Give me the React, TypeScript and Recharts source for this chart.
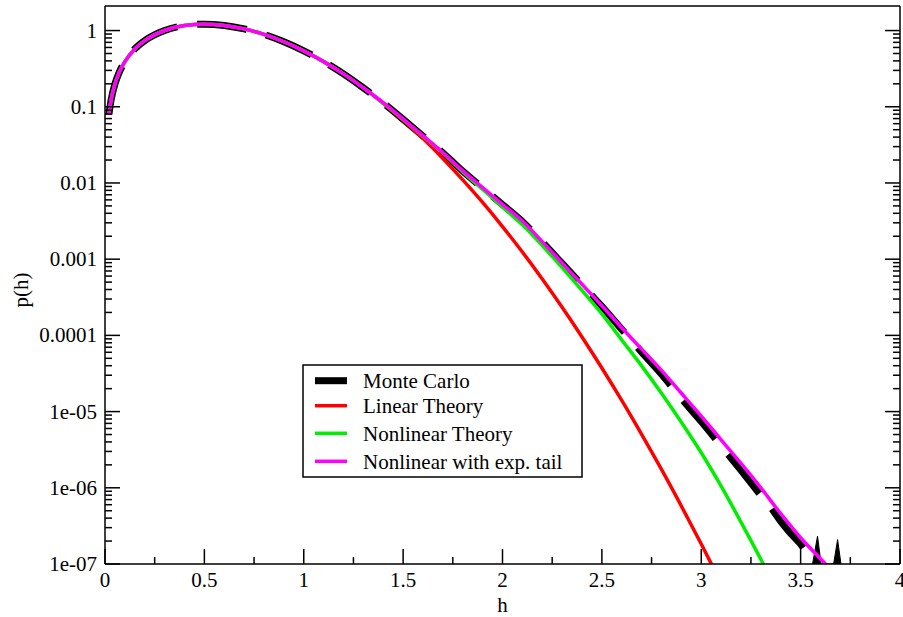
import { ComposedChart, Line, Area, XAxis, YAxis, Label } from "recharts";

// h values shared by the three theory curves
const hGrid = [
  0.02, 0.03, 0.05, 0.07, 0.1, 0.15, 0.2, 0.3, 0.4, 0.5, 0.6, 0.7, 0.8, 0.9,
  1.0, 1.1, 1.2, 1.3, 1.4, 1.5, 1.6, 1.7, 1.8, 1.9, 2.0, 2.1, 2.2, 2.3, 2.4,
  2.5, 2.6, 2.7, 2.8, 2.9, 3.0, 3.1, 3.2, 3.3, 3.4, 3.5, 3.6, 3.7,
];

const linearTheory = [
  0.0799, 0.1198, 0.199, 0.277, 0.392, 0.574, 0.738, 1.002, 1.162, 1.213,
  1.168, 1.051, 0.89, 0.713, 0.541, 0.391, 0.27, 0.177, 0.111, 0.0666, 0.0382,
  0.021, 0.011, 0.00556, 0.00268, 0.00124, 5.5e-4, 2.34e-4, 9.54e-5, 3.73e-5,
  1.4e-5, 5.03e-6, 1.74e-6, 5.75e-7, 1.83e-7, 5.6e-8,
];

const nonlinearTheory = [
  0.0799, 0.1198, 0.199, 0.277, 0.392, 0.574, 0.738, 1.002, 1.162, 1.213,
  1.168, 1.051, 0.89, 0.713, 0.541, 0.391, 0.27, 0.177, 0.112, 0.0684, 0.0412,
  0.0248, 0.01396, 0.00822, 0.00484, 0.00282, 0.00151, 7.76e-4, 3.89e-4,
  1.91e-4, 8.71e-5, 3.98e-5, 1.74e-5, 7.24e-6, 2.88e-6, 1.05e-6, 3.55e-7,
  1.15e-7, 3.55e-8,
];

const expTail = [
  0.0799, 0.1198, 0.199, 0.277, 0.392, 0.574, 0.738, 1.002, 1.162, 1.213,
  1.168, 1.051, 0.89, 0.713, 0.541, 0.391, 0.27, 0.177, 0.1135, 0.0692, 0.0417,
  0.0251, 0.0145, 0.00871, 0.00525, 0.00316, 0.0017, 8.91e-4, 4.68e-4,
  2.45e-4, 1.26e-4, 6.61e-5, 3.47e-5, 1.74e-5, 8.71e-6, 4.27e-6, 2.09e-6,
  1.0e-6, 4.57e-7, 2.21e-7, 1.17e-7, 6.3e-8,
];

// Monte Carlo histogram, finer in the noisy tail
const mcH = [
  0.02, 0.03, 0.05, 0.07, 0.1, 0.15, 0.2, 0.3, 0.4, 0.5, 0.6, 0.7, 0.8, 0.9,
  1.0, 1.1, 1.2, 1.3, 1.4, 1.5, 1.6, 1.7, 1.8, 1.9, 2.0, 2.1, 2.2, 2.3, 2.4,
  2.5, 2.6, 2.7, 2.8, 2.9, 3.0, 3.1, 3.2, 3.3, 3.35, 3.4, 3.45, 3.5, 3.52,
  3.54, 3.56, 3.575,
];

const monteCarlo = [
  0.0799, 0.1198, 0.199, 0.277, 0.392, 0.574, 0.738, 1.002, 1.162, 1.213,
  1.168, 1.051, 0.89, 0.713, 0.541, 0.391, 0.27, 0.177, 0.1125, 0.0685,
  0.0412, 0.0248, 0.0143, 0.0086, 0.0052, 0.00312, 0.00168, 8.8e-4, 4.6e-4,
  2.4e-4, 1.2e-4, 6.03e-5, 3.09e-5, 1.48e-5, 7.41e-6, 3.55e-6, 1.7e-6,
  7.94e-7, 5.5e-7, 3.63e-7, 2.51e-7, 1.82e-7, 1.55e-7, 1.26e-7, 1.07e-7,
  1e-8,
];

// isolated histogram counts past the end of the Monte Carlo curve
const mcSpikeH = [3.56, 3.585, 3.603, 3.666, 3.686, 3.703];
const mcSpikeP = [1e-7, 2.32e-7, 1e-7, 1e-7, 2.09e-7, 1e-7];

const xTicks = [0, 0.25, 0.5, 0.75, 1, 1.25, 1.5, 1.75, 2, 2.25, 2.5, 2.75, 3, 3.25, 3.5, 3.75, 4];
const xMajorTicks = [0, 0.5, 1, 1.5, 2, 2.5, 3, 3.5, 4];
const xTickLabels = ["0", "0.5", "1", "1.5", "2", "2.5", "3", "3.5", "4"];

const yMajorTicks = [1e-7, 1e-6, 1e-5, 1e-4, 1e-3, 1e-2, 0.1, 1];
const yTickLabels = ["1e-07", "1e-06", "1e-05", "0.0001", "0.001", "0.01", "0.1", "1"];
const yTicks = yMajorTicks.flatMap((d) =>
  d < 1 ? [d, 2 * d, 3 * d, 4 * d, 5 * d, 6 * d, 7 * d, 8 * d, 9 * d] : [d]
);

const series = [
  { name: "Monte Carlo", color: "#000000", width: 7 },
  { name: "Linear Theory", color: "#ff0000", width: 3.5 },
  { name: "Nonlinear Theory", color: "#00ee00", width: 3.5 },
  { name: "Nonlinear with exp. tail", color: "#ff00ff", width: 3.5 },
];

const toPoints = (hs: number[], ps: number[]) => ps.map((p, i) => ({ h: hs[i], p }));

const FONT = "'Liberation Serif', 'Times New Roman', serif";
const MAJOR = 15;
const MINOR = 7;

const yMajorIndex = (v: number) =>
  yMajorTicks.findIndex((t) => Math.abs(Math.log10(v) - Math.log10(t)) < 1e-6);
const xMajorIndex = (v: number) => xMajorTicks.findIndex((t) => Math.abs(v - t) < 1e-6);

const LeftTick = ({ x, y, payload }: any) => {
  const i = yMajorIndex(payload.value);
  return (
    <g>
      <line x1={x} y1={y} x2={x + (i >= 0 ? MAJOR : MINOR)} y2={y} stroke="#000" strokeWidth={1.5} />
      {i >= 0 && (
        <text x={x - 8} y={y + 7} textAnchor="end" fontSize={21} fontFamily={FONT} fill="#000">
          {yTickLabels[i]}
        </text>
      )}
    </g>
  );
};

const RightTick = ({ x, y, payload }: any) => {
  const i = yMajorIndex(payload.value);
  return <line x1={x} y1={y} x2={x - (i >= 0 ? MAJOR : MINOR)} y2={y} stroke="#000" strokeWidth={1.5} />;
};

const BottomTick = ({ x, y, payload }: any) => {
  const i = xMajorIndex(payload.value);
  return (
    <g>
      <line x1={x} y1={y} x2={x} y2={y - (i >= 0 ? MAJOR : MINOR)} stroke="#000" strokeWidth={1.5} />
      {i >= 0 && (
        <text x={x} y={y + 23} textAnchor="middle" fontSize={21} fontFamily={FONT} fill="#000">
          {xTickLabels[i]}
        </text>
      )}
    </g>
  );
};

const TopTick = ({ x, y, payload }: any) => {
  const i = xMajorIndex(payload.value);
  return <line x1={x} y1={y} x2={x} y2={y + (i >= 0 ? MAJOR : MINOR)} stroke="#000" strokeWidth={1.5} />;
};

const legendRows = [24.3, 49.3, 76.9, 104.9];

const App = () => {
  return (
    <div style={{ position: "absolute", left: 0, top: 0, width: 903, height: 617, background: "#fff" }}>
      <ComposedChart width={903} height={617} margin={{ top: 5, right: 0, left: 8, bottom: 0 }}>
        <XAxis
          dataKey="h"
          type="number"
          domain={[0, 4]}
          ticks={xTicks}
          interval={0}
          tickSize={0}
          tickMargin={0}
          tickLine={false}
          tick={<BottomTick />}
          height={53}
          axisLine={{ stroke: "#000", strokeWidth: 1.5 }}
        >
          <Label value="h" position="insideBottom" offset={5.5} fontSize={21} fontFamily={FONT} fill="#000" />
        </XAxis>
        <XAxis
          xAxisId="top"
          orientation="top"
          dataKey="h"
          type="number"
          domain={[0, 4]}
          ticks={xTicks}
          interval={0}
          tickSize={0}
          tickMargin={0}
          tickLine={false}
          tick={<TopTick />}
          height={1}
          axisLine={{ stroke: "#000", strokeWidth: 1.5 }}
        />
        <YAxis
          type="number"
          scale="log"
          domain={[1e-7, 2.1]}
          allowDataOverflow
          ticks={yTicks}
          interval={0}
          tickSize={0}
          tickMargin={0}
          tickLine={false}
          tick={<LeftTick />}
          width={97}
          axisLine={{ stroke: "#000", strokeWidth: 1.5 }}
        >
          <Label
            content={() => (
              <text x={21} y={290} transform="rotate(-90 21 290)" textAnchor="middle" dominantBaseline="central" fontSize={21} fontFamily={FONT} fill="#000">
                p(h)
              </text>
            )}
          />
        </YAxis>
        <YAxis
          yAxisId="right"
          orientation="right"
          type="number"
          scale="log"
          domain={[1e-7, 2.1]}
          allowDataOverflow
          ticks={yTicks}
          interval={0}
          tickSize={0}
          tickMargin={0}
          tickLine={false}
          tick={<RightTick />}
          width={3}
          axisLine={{ stroke: "#000", strokeWidth: 1.5 }}
        />
        <Line
          data={toPoints(mcH, monteCarlo)}
          dataKey="p"
          type="monotone"
          stroke={series[0].color}
          strokeWidth={series[0].width}
          strokeDasharray="50 20"
          dot={false}
          activeDot={false}
          isAnimationActive={false}
        />
        <Area
          data={toPoints(mcSpikeH, mcSpikeP)}
          dataKey="p"
          type="linear"
          baseValue={1e-7}
          stroke={series[0].color}
          strokeWidth={1}
          fill={series[0].color}
          fillOpacity={1}
          dot={false}
          activeDot={false}
          legendType="none"
          isAnimationActive={false}
        />
        <Line
          data={toPoints(hGrid, linearTheory)}
          dataKey="p"
          type="monotone"
          stroke={series[1].color}
          strokeWidth={series[1].width}
          dot={false}
          activeDot={false}
          isAnimationActive={false}
        />
        <Line
          data={toPoints(hGrid, nonlinearTheory)}
          dataKey="p"
          type="monotone"
          stroke={series[2].color}
          strokeWidth={series[2].width}
          dot={false}
          activeDot={false}
          isAnimationActive={false}
        />
        <Line
          data={toPoints(hGrid, expTail)}
          dataKey="p"
          type="monotone"
          stroke={series[3].color}
          strokeWidth={series[3].width}
          dot={false}
          activeDot={false}
          isAnimationActive={false}
        />
      </ComposedChart>
      <svg width={281} height={114} style={{ position: "absolute", left: 302, top: 364 }}>
        <rect x={1} y={1} width={279} height={112} fill="#fff" stroke="#000" strokeWidth={1.5} />
        {series.map((s, i) => (
          <g key={s.name}>
            <line x1={13} x2={45} y1={legendRows[i] - 7.6} y2={legendRows[i] - 7.6} stroke={s.color} strokeWidth={s.width} />
            <text x={61} y={legendRows[i]} fontSize={21} fontFamily={FONT} fill="#000">
              {s.name}
            </text>
          </g>
        ))}
      </svg>
    </div>
  );
};

export default App;
